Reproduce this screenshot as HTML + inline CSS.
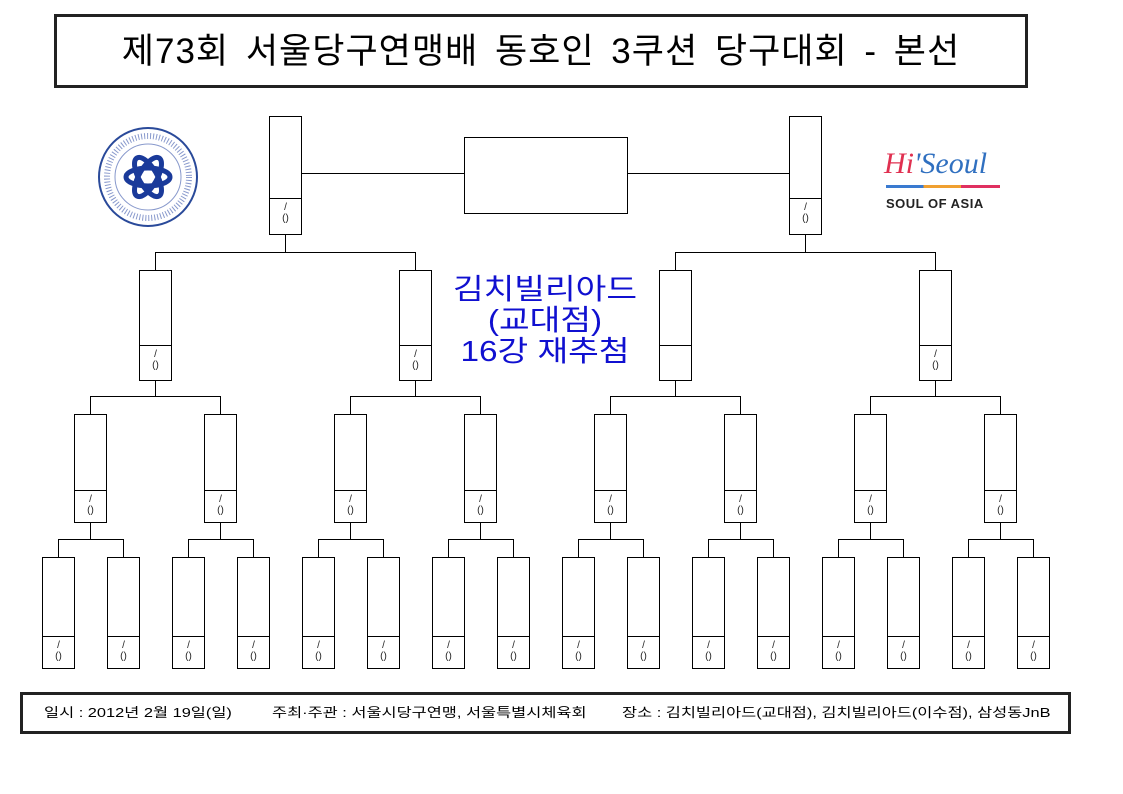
<!DOCTYPE html>
<html><head><meta charset="utf-8">
<style>
body{margin:0;width:1123px;height:794px;background:#fff;position:relative;overflow:hidden;font-family:"Liberation Sans","Noto Sans CJK KR","NanumGothic",sans-serif;}
.a{position:absolute;box-sizing:border-box;}
.b{position:absolute;box-sizing:border-box;border:1px solid #000;background:#fff;}
.d{position:absolute;left:0;right:0;border-top:1px solid #000;}
.t{position:absolute;left:0;right:0;text-align:center;font-size:10px;line-height:11px;color:#222;font-family:"Liberation Sans",sans-serif;}
.h{position:absolute;height:1px;background:#000;}
.v{position:absolute;width:1px;background:#000;}
.f{position:absolute;top:705px;font-size:13px;line-height:16px;white-space:pre;transform:scaleX(1.26);transform-origin:0 0;}
</style></head><body>
<div class="a" style="left:54px;top:14px;width:974px;height:74px;border:3px solid #222;"></div>
<div class="a" style="left:54px;top:30px;width:974px;text-align:center;font-size:35px;line-height:44px;letter-spacing:1px;word-spacing:6px;">제73회 서울당구연맹배 동호인 3쿠션 당구대회 - 본선</div>

<svg class="a" style="left:96px;top:125px" width="104" height="104" viewBox="0 0 104 104">
<circle cx="52" cy="52" r="49" fill="none" stroke="#2a4a9a" stroke-width="2"/>
<circle cx="52" cy="52" r="33" fill="none" stroke="#8899cc" stroke-width="1"/>
<circle cx="52" cy="52" r="41" fill="none" stroke="#8899cc" stroke-width="6" stroke-dasharray="1 2"/>
<g fill="none" stroke="#1a3a9a" stroke-width="5">
<ellipse cx="52" cy="52" rx="22" ry="9"/>
<ellipse cx="52" cy="52" rx="22" ry="9" transform="rotate(60 52 52)"/>
<ellipse cx="52" cy="52" rx="22" ry="9" transform="rotate(120 52 52)"/>
</g></svg>

<div class="a" style="left:884px;top:148px;font-size:30px;font-style:italic;font-family:'Liberation Serif',serif;line-height:32px;"><span style="color:#e03050">Hi</span><span style="color:#3070c0">'Seoul</span></div>
<div class="a" style="left:886px;top:185px;width:114px;height:3px;background:linear-gradient(90deg,#3a7ad0 33%,#f0a030 33%,#f0a030 66%,#e03060 66%);"></div>
<div class="a" style="left:886px;top:196px;font-size:13px;font-weight:bold;color:#222;letter-spacing:0.5px;">SOUL OF ASIA</div>

<div class="b" style="left:464px;top:137px;width:164px;height:77px;"></div>
<div class="h" style="left:301px;top:173px;width:163px;"></div>
<div class="h" style="left:627px;top:173px;width:162px;"></div>

<div class="a" style="left:400px;top:275px;width:290px;text-align:center;color:#1010d0;font-size:29px;line-height:31px;transform:scaleX(1.15);transform-origin:145px 0;">김치빌리아드<br>(교대점)<br>16강 재추첨</div>

<div class="a" style="left:20px;top:692px;width:1051px;height:42px;border:3px solid #222;"></div>
<div class="f" style="left:44px;">일시 : 2012년 2월 19일(일)</div>
<div class="f" style="left:272px;">주최·주관 : 서울시당구연맹, 서울특별시체육회</div>
<div class="f" style="left:622px;">장소 : 김치빌리아드(교대점), 김치빌리아드(이수점), 삼성동JnB</div>

<div id="g"></div>
<script>
var g=document.getElementById('g'),h='';
function box(cx,top,bot,div,txt){
 var x=cx-16;
 h+='<div class="b" style="left:'+x+'px;top:'+top+'px;width:33px;height:'+(bot-top+1)+'px;"><div class="d" style="top:'+(div-top-1)+'px"></div>'+
 (txt?'<div class="t" style="top:'+(div-top+3)+'px">/<br>()</div>':'')+'</div>';
}
function hl(x1,x2,y){h+='<div class="h" style="left:'+x1+'px;top:'+y+'px;width:'+(x2-x1+1)+'px"></div>';}
function vl(x,y1,y2){h+='<div class="v" style="left:'+x+'px;top:'+y1+'px;height:'+(y2-y1)+'px"></div>';}
box(285,116,234,198,1);box(805,116,234,198,1);
var r2=[155,415,675,935];
hl(155,415,252);hl(675,935,252);vl(285,234,252);vl(805,234,252);
r2.forEach(function(c,i){vl(c,252,270);box(c,270,380,345,i!=2);});
for(var i=0;i<8;i++){var c=90+130*i;box(c,414,522,490,1);}
for(var i=0;i<4;i++){var p=155+260*i;vl(p,380,396);hl(p-65,p+65,396);vl(p-65,396,414);vl(p+65,396,414);}
for(var i=0;i<16;i++){var c=58+65*i;box(c,557,668,636,1);}
for(var i=0;i<8;i++){var p=90+130*i;vl(p,522,539);hl(p-32,p+33,539);vl(p-32,539,557);vl(p+33,539,557);}
g.innerHTML=h;
</script>
</body></html>
